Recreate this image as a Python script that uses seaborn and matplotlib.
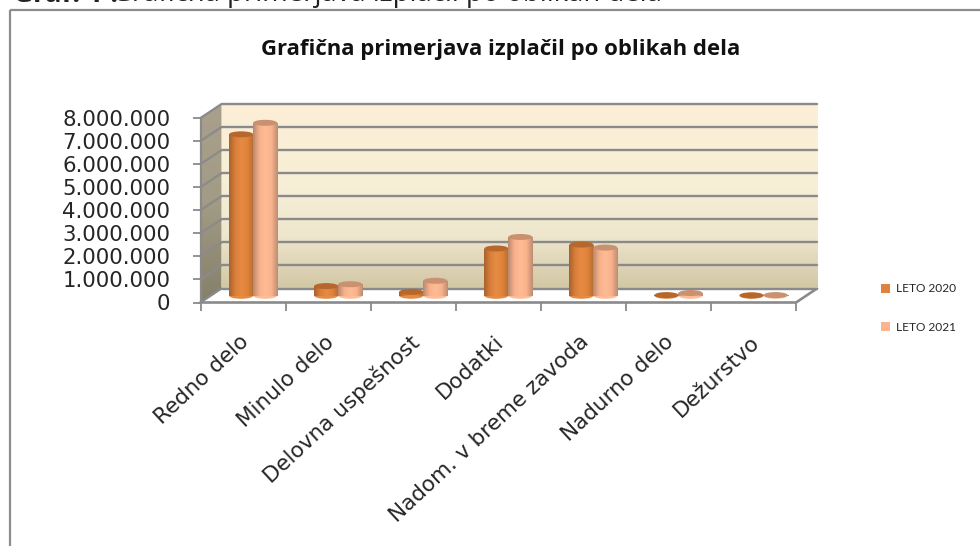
import matplotlib
matplotlib.use('Agg')
import matplotlib.pyplot as plt
import numpy as np
import pandas as pd
import seaborn as sns
from matplotlib.colors import LinearSegmentedColormap
from matplotlib.patches import Ellipse, Patch, Polygon

categories = ['Redno delo', 'Minulo delo', 'Delovna uspešnost', 'Dodatki',
              'Nadom. v breme zavoda', 'Nadurno delo', 'Dežurstvo']
leto_2020 = [7000000, 420000, 170000, 2050000, 2220000, 30000, 20000]
leto_2021 = [7500000, 500000, 650000, 2550000, 2090000, 120000, 30000]
series_names = ['LETO 2020', 'LETO 2021']
y_ticks = [0, 1000000, 2000000, 3000000, 4000000, 5000000, 6000000, 7000000, 8000000]
y_labels = ['0', '1.000.000', '2.000.000', '3.000.000', '4.000.000',
            '5.000.000', '6.000.000', '7.000.000', '8.000.000']

W, H = 980, 546
# front plane of the 3d box, and depth of the box, in pixels
FX0, FX1, FY0, FY1 = 200.5, 796, 302.5, 118
DX, DY = 21, -14
GREY = '#8a8a8a'

sns.set_theme(style='white')
plt.rcParams['font.family'] = ['DejaVu Sans']
fig = plt.figure(figsize=(W / 100, H / 100), dpi=100)
fig.patch.set_facecolor('white')


def box_axes(shift, zorder):
    # axes on a plane of the box, shift = 0 front, 1 back
    x0 = FX0 + DX * shift
    x1 = FX1 + DX * shift
    y0 = FY0 + DY * shift
    y1 = FY1 + DY * shift
    a = fig.add_axes([x0 / W, 1 - y0 / H, (x1 - x0) / W, (y0 - y1) / H], zorder=zorder)
    a.patch.set_alpha(0)
    a.set_xlim(-0.5, 6.5)
    a.set_ylim(0, 8000000)
    for s in a.spines.values():
        s.set_visible(False)
    a.set_xticks([])
    a.set_yticks([])
    return a


# pixel layer: frame, side wall, floor
bg = fig.add_axes([0, 0, 1, 1], zorder=0)
bg.set_xlim(0, W)
bg.set_ylim(H, 0)
bg.axis('off')
bg.plot([10, 10], [H + 5, 10], color='#8c8c8c', lw=1.6, solid_capstyle='butt')
bg.plot([10, W + 5], [10, 10], color='#8c8c8c', lw=1.6, solid_capstyle='butt')

wall_cmap = LinearSegmentedColormap.from_list('w', ['#a8a08c', '#a29b85', '#85806a'])
wall = Polygon([(FX0, FY1), (FX0 + DX, FY1 + DY), (FX0 + DX, FY0 + DY), (FX0, FY0)],
               closed=True, transform=bg.transData, fc='none', ec='none')
bg.add_patch(wall)
im = bg.imshow(np.linspace(0, 1, 100).reshape(-1, 1), cmap=wall_cmap, aspect='auto',
               extent=[FX0, FX0 + DX, FY0, FY1 + DY], zorder=1)
im.set_clip_path(wall)
bg.set_xlim(0, W)
bg.set_ylim(H, 0)

# back wall
back = box_axes(1, 1)
back_cmap = LinearSegmentedColormap.from_list(
    'b', [(0, '#fdefd6'), (0.45, '#f7eed7'), (0.72, '#eee6cd'), (1, '#d2c7a5')])
back.imshow(np.linspace(0, 1, 200).reshape(-1, 1), cmap=back_cmap, aspect='auto',
            extent=[-0.5, 6.5, 0, 8000000], zorder=0)
for v in y_ticks:
    back.axhline(v, color=GREY, lw=1.7, zorder=1, clip_on=False)

# front plane: ticks and labels
front = box_axes(0, 2)
px = (FY0 - FY1) / 8000000
for v in y_ticks:
    y = FY0 - v * px
    bg.plot([FX0, FX0 + DX], [y, y + DY], color=GREY, lw=1.6, zorder=2)
bg.plot([FX0, FX0], [FY1, FY0], color=GREY, lw=1.6, zorder=2)
bg.plot([FX0, FX1, FX1 + DX], [FY0, FY0, FY0 + DY], color=GREY, lw=1.9, zorder=2)
front.set_yticks(y_ticks)
front.set_yticklabels(y_labels, fontsize=15.3, color='#262626')
front.set_xticks(np.arange(-0.5, 7, 1), minor=False)
front.set_xticklabels([''] * 8)
front.tick_params(axis='both', length=5.8, width=1.3, color=GREY, left=True, bottom=True)
front.tick_params(axis='y', pad=16)
for i, name in enumerate(categories):
    front.annotate(name, (i, 0), xytext=(-3, -21), textcoords='offset points', rotation=43,
                   rotation_mode='anchor', ha='right', va='top', fontsize=15.5, color='#262626',
                   annotation_clip=False)

# bars
df = pd.DataFrame({
    'kategorija': categories * 2,
    'vrednost': leto_2020 + leto_2021,
    'leto': [series_names[0]] * 7 + [series_names[1]] * 7,
})
ax = box_axes(0.48, 3)
sns.barplot(data=df, x='kategorija', y='vrednost', hue='leto', hue_order=series_names,
            order=categories, palette=['#e0823d', '#fdb48d'], width=0.565, gap=0,
            saturation=1, legend=False, ax=ax)
ax.set_xlabel('')
ax.set_ylabel('')
ax.set_xticks([])
ax.set_yticks([])

ramps = [['#a9622b', '#d97f3b', '#e68b43', '#e08239', '#b56c33'],
         ['#b98a70', '#f7b08a', '#ffbb95', '#f8b28c', '#bd8d72']]
tops = ['#b5672c', '#c9916f']
ell_h = 6 / px  # ellipse height in data units
for k, bars in enumerate(ax.containers):
    cmap = LinearSegmentedColormap.from_list('r', ramps[k])
    for bar in bars:
        bx, bw, bh = bar.get_x(), bar.get_width(), bar.get_height()
        cx = bx + bw / 2
        ax.add_patch(Ellipse((cx, 0), bw, ell_h, fc=ramps[k][2], ec='none', zorder=3, clip_on=False))
        g = ax.imshow(np.linspace(0, 1, 60).reshape(1, -1), cmap=cmap, aspect='auto',
                      extent=[bx, bx + bw, 0, bh], zorder=4)
        g.set_clip_path(bar)
        bar.set_alpha(0)
        ax.add_patch(Ellipse((cx, bh), bw, ell_h, fc=tops[k], ec='none', zorder=5, clip_on=False))
ax.set_xlim(-0.5, 6.5)
ax.set_ylim(0, 8000000)

# title lines
bg.text(501, 49, 'Grafična primerjava izplačil po oblikah dela', ha='center', va='center',
        fontsize=15.9, fontweight='bold', family='Open Sans', color='#111111', zorder=6)
bg.text(13, 1.5, 'Graf. 1 :', ha='left', va='baseline', fontsize=19.8, fontweight='bold',
        family='Open Sans', color='#222222', zorder=6, clip_on=True)
bg.text(112, 1.5, 'Grafična primerjava izplačil po oblikah dela', ha='left', va='baseline',
        fontsize=19.8, family='Open Sans', color='#222222', zorder=6, clip_on=True)

handles = [Patch(fc='#e0823d', ec='none'), Patch(fc='#fdb48d', ec='none')]
leg = fig.legend(handles, series_names, loc='center left', bbox_to_anchor=(870 / W, 1 - 308 / H),
                 frameon=False, handlelength=0.8, handleheight=0.8,
                 handletextpad=0.45, labelspacing=2.3, prop={'family': 'Lato', 'size': 8.6})
for t in leg.get_texts():
    t.set_color('#262626')

fig.savefig('out.png', dpi=100)
